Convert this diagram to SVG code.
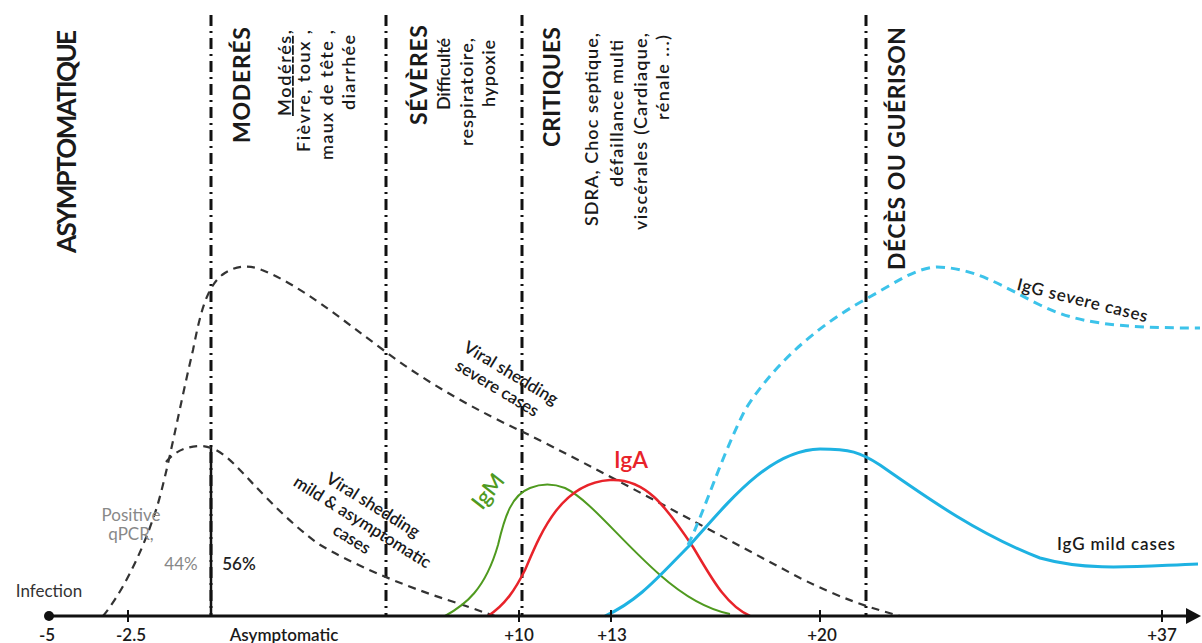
<svg xmlns="http://www.w3.org/2000/svg" width="1202" height="643" viewBox="0 0 1202 643">
<style>
text{font-family:Lato,"Open Sans","Liberation Sans",sans-serif;fill:#1a1a1a}
.h{font-weight:700;font-size:23px}
.s{font-weight:600;font-size:18px}
.l{font-size:17px;font-weight:600}
.ax{font-size:17px;font-weight:600;text-anchor:middle}
.vl{stroke:#111;stroke-width:3;stroke-dasharray:11 5 2 5;fill:none}
.shed{stroke:#333;stroke-width:2.2;stroke-dasharray:8 6;fill:none}
.tick{stroke:#111;stroke-width:2}
</style>
<rect width="1202" height="643" fill="#fff"/>
<g id="phase-lines">
<line class="vl" x1="211" y1="15" x2="211" y2="616"/>
<line class="vl" x1="386" y1="15" x2="386" y2="616"/>
<line class="vl" x1="522" y1="15" x2="522" y2="616"/>
<line class="vl" x1="866" y1="15" x2="866" y2="616"/>
<line x1="211" y1="447" x2="211" y2="616" stroke="#111" stroke-width="2.5"/>
</g>
<g id="phase-asymptomatique">
<text class="h" text-anchor="end" textLength="223" transform="translate(76,30) rotate(-90)" style="font-size:26px">ASYMPTOMATIQUE</text>
</g>
<g id="phase-moderes">
<text class="h" text-anchor="end" textLength="116" transform="translate(250,27) rotate(-90)">MODERÉS</text>
<text class="s" text-anchor="end" textLength="86" text-decoration="underline" transform="translate(291,30) rotate(-90)">Modérés,</text>
<text class="s" text-anchor="end" textLength="122" transform="translate(310,30) rotate(-90)">Fièvre, toux ,</text>
<text class="s" text-anchor="end" textLength="130" transform="translate(333,30) rotate(-90)">maux de tête ,</text>
<text class="s" text-anchor="end" textLength="75" transform="translate(355,35) rotate(-90)">diarrhée</text>
</g>
<g id="phase-severes">
<text class="h" text-anchor="end" textLength="100" transform="translate(427,25) rotate(-90)">SÉVÈRES</text>
<text class="s" text-anchor="end" textLength="72" transform="translate(450,38) rotate(-90)">Difficulté</text>
<text class="s" text-anchor="end" textLength="108" transform="translate(473,38) rotate(-90)">respiratoire,</text>
<text class="s" text-anchor="end" textLength="67" transform="translate(495,40) rotate(-90)">hypoxie</text>
</g>
<g id="phase-critiques">
<text class="h" text-anchor="end" textLength="120" transform="translate(560,27) rotate(-90)">CRITIQUES</text>
<text class="s" text-anchor="end" textLength="193" transform="translate(598,33) rotate(-90)">SDRA, Choc septique,</text>
<text class="s" text-anchor="end" textLength="147" transform="translate(623,40) rotate(-90)">défaillance multi</text>
<text class="s" text-anchor="end" textLength="197" transform="translate(647,33) rotate(-90)">viscérales (Cardiaque,</text>
<text class="s" text-anchor="end" textLength="85" transform="translate(669,35) rotate(-90)">rénale ...)</text>
</g>
<g id="phase-deces">
<text class="h" text-anchor="end" textLength="243" transform="translate(905,27) rotate(-90)">DÉCÈS OU GUÉRISON</text>
</g>
<g id="curves">
<path id="shed-severe" class="shed" d="M103,616 C118,598 140,560 157,507 C168,470 180,405 193,350 C200,315 206,288 222,275 C234,266 248,264 262,270 C300,285 340,318 386,352 C430,385 480,412 523,432 C600,470 700,525 800,578 C840,598 870,608 900,616"/>
<path id="shed-mild" class="shed" d="M166,462 C176,450 188,446 202,446 C215,447 225,455 235,465 C255,485 280,515 317,543 C350,563 400,585 457,603 C475,609 485,613 495,616"/>
<path id="igm" fill="none" stroke="#4f9a1f" stroke-width="2" d="M445,616 C465,605 485,590 498,545 C505,515 512,495 530,488 C540,484 552,483 565,488 C590,500 620,540 660,575 C685,597 710,610 730,614"/>
<path id="iga" fill="none" stroke="#e8232a" stroke-width="2.5" d="M488,616 C505,605 515,590 525,570 C540,535 560,483 610,480 C645,478 665,505 693,547 C710,575 725,605 750,616"/>
<path id="igg-mild" fill="none" stroke="#1eb2e2" stroke-width="3" d="M605,616 C640,600 660,575 690,545 C730,500 770,450 820,449 C850,449 860,452 880,465 C930,500 980,535 1040,558 C1090,572 1140,566 1198,564"/>
<path id="igg-severe" fill="none" stroke="#3cc3ea" stroke-width="3" stroke-dasharray="9 6" d="M688,545 C705,510 720,460 745,410 C770,370 810,330 866,299 C895,283 915,268 937,267 C975,268 1000,285 1040,305 C1075,322 1110,328 1200,328"/>
</g>
<g id="axis">
<line x1="49" y1="616" x2="1188" y2="616" stroke="#111" stroke-width="3"/>
<polygon points="1186,608 1201,616 1186,624" fill="#111"/>
<circle cx="49" cy="616" r="5" fill="#111"/>
<line class="tick" x1="128" y1="610" x2="128" y2="622"/>
<line class="tick" x1="519" y1="610" x2="519" y2="622"/>
<line class="tick" x1="611" y1="610" x2="611" y2="622"/>
<line class="tick" x1="820" y1="610" x2="820" y2="622"/>
<line class="tick" x1="1162" y1="610" x2="1162" y2="622"/>
<text class="ax" x="47" y="641">-5</text>
<text class="ax" x="131" y="641">-2.5</text>
<text class="ax" x="284" y="641">Asymptomatic</text>
<text class="ax" x="519" y="641">+10</text>
<text class="ax" x="612" y="641">+13</text>
<text class="ax" x="822" y="641">+20</text>
<text class="ax" x="1162" y="641">+37</text>
</g>
<g id="labels">
<g transform="translate(508,378) rotate(31)">
<text class="l" text-anchor="middle" x="0" y="0">Viral shedding</text>
<text class="l" text-anchor="middle" x="-4" y="20">severe cases</text>
</g>
<g transform="translate(370,510) rotate(32)">
<text class="l" text-anchor="middle" x="0" y="0">Viral shedding</text>
<text class="l" text-anchor="middle" x="0" y="20">mild &amp; asymptomatic</text>
<text class="l" text-anchor="middle" x="0" y="40">cases</text>
</g>
<text transform="translate(494,496) rotate(-52)" text-anchor="middle" style="font-size:22px;fill:#4f9a1f;font-weight:600">IgM</text>
<text x="631" y="468" text-anchor="middle" style="font-size:23px;fill:#e8232a;font-weight:600">IgA</text>
<text class="l" transform="translate(1081,306) rotate(14)" text-anchor="middle" textLength="134">IgG severe cases</text>
<text class="l" x="1116" y="550" text-anchor="middle" textLength="118">IgG mild cases</text>
<text x="131" y="521" text-anchor="middle" style="font-size:17px;fill:#888">Positive</text>
<text x="131" y="540" text-anchor="middle" style="font-size:17px;fill:#888">qPCR,</text>
<text x="181" y="570" text-anchor="middle" style="font-size:17px;fill:#888">44%</text>
<text x="239" y="570" text-anchor="middle" style="font-size:17px;fill:#222;font-weight:600">56%</text>
<text x="49" y="597" text-anchor="middle" style="font-size:17px;fill:#333">Infection</text>
</g>
</svg>
